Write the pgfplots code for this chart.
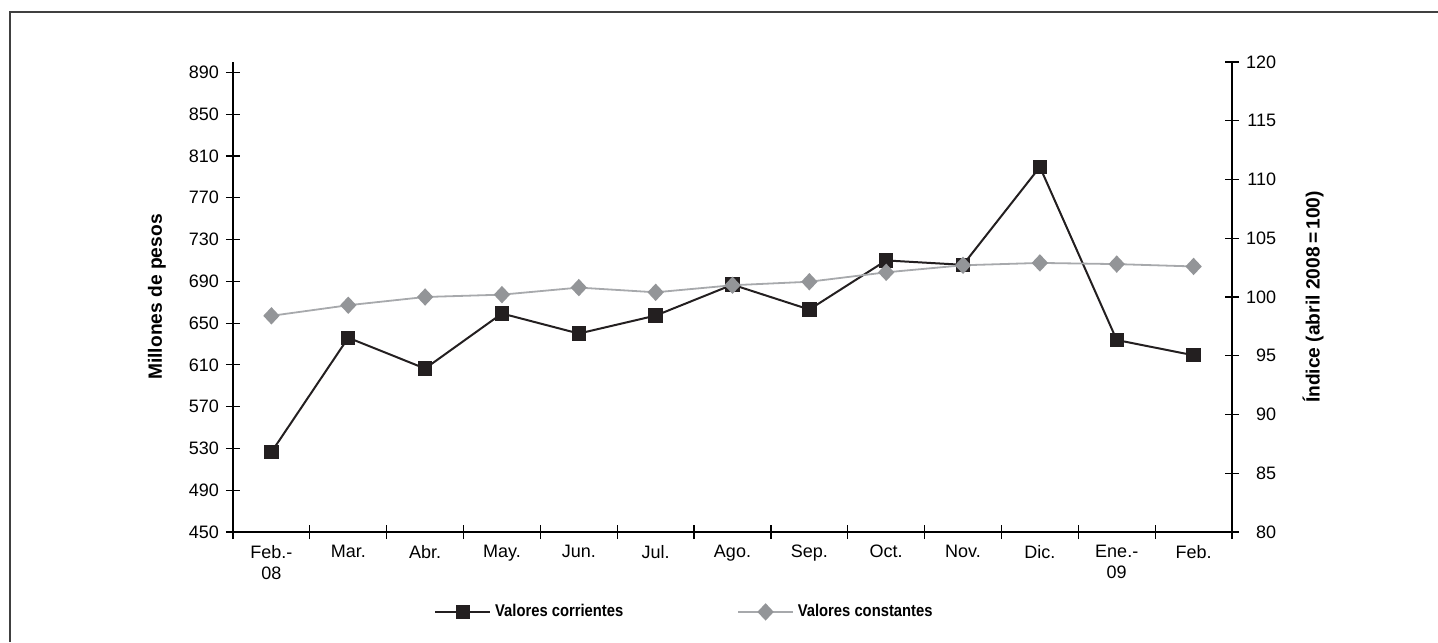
\documentclass[border=0pt]{standalone}
\usepackage{pgfplots}
\pgfplotsset{compat=1.18}
\usepackage{fontspec}
\setmainfont{Liberation Sans}

\definecolor{serA}{HTML}{231F20}
\definecolor{serB}{HTML}{939598}
\definecolor{serBline}{HTML}{A7A9AC}

% Valores corrientes (millones de pesos)
\pgfplotstableread{
x y
0 526.5
1 636
2 606.5
3 659.2
4 640
5 657.2
6 686.8
7 663
8 710
9 705.8
10 799.5
11 633.8
12 619.2
}\corrientes

% Valores constantes (indice abril 2008 = 100)
\pgfplotstableread{
x y
0 98.4
1 99.3
2 100.0
3 100.2
4 100.8
5 100.4
6 101.0
7 101.3
8 102.1
9 102.7
10 102.9
11 102.8
12 102.6
}\constantes

\pgfplotsset{
  common/.style={
    at={(0,0)}, anchor=south west,
    width=499.5pt, height=235pt, scale only axis,
    xmin=-0.5, xmax=12.5,
    axis line style={line width=0.6pt, black, -},
    tick style={black, line width=0.6pt},
    tick align=center, major tick length=7pt,
    /pgf/number format/assume math mode=true,
    tick label style={font=\fontsize{9}{10}\selectfont},
  }
}

\begin{document}
\begin{tikzpicture}
\useasboundingbox (-116.5pt,-55pt) rectangle (602.5pt,266pt);
\draw[black!75, line width=0.6pt] (-111.5pt,-55pt) -- (-111.5pt,260pt) -- (602.5pt,260pt);

\begin{axis}[
  common,
  ymin=450, ymax=900,
  axis x line*=bottom, axis y line*=left,
  xtick={-0.5,0.5,...,12.5},
  xticklabels={},
  extra x ticks={0,...,12},
  extra x tick labels={{Feb.-\\08},Mar.,Abr.,May.,Jun.,Jul.,Ago.,Sep.,Oct.,Nov.,Dic.,{Ene.-\\09},Feb.},
  extra x tick style={major tick length=0pt,
    xticklabel style={align=center, yshift=-3pt, font=\fontsize{9}{10.5}\selectfont}},
  ytick={450,490,...,890},
  ylabel={\bfseries Millones de pesos},
  ylabel style={at={([xshift=-38pt]axis description cs:0,0.5)}, anchor=center, rotate=0,
    font=\fontsize{9.6}{10}\selectfont},
]
\addplot[serA, line width=1pt, mark=square*, mark size=3.1pt,
  mark options={fill=serA, draw=serA}] table {\corrientes};
\end{axis}

\begin{axis}[
  common,
  ymin=80, ymax=120,
  axis x line=none, axis y line*=right,
  ytick={80,85,...,120},
  yticklabel style={text width=15pt, align=right},
  ylabel={\bfseries Índice (abril 2008\,=\,100)},
  ylabel style={at={([xshift=40.5pt]axis description cs:1,0.5)}, anchor=center, rotate=0,
    font=\fontsize{9.6}{10}\selectfont},
  legend columns=2,
  legend cell align=left,
  legend style={at={(axis description cs:0.453,-0.17)}, anchor=center, draw=none,
    fill=none, font=\fontsize{8.5}{10}\selectfont\bfseries\addfontfeature{FakeStretch=0.87},
    /tikz/every even column/.append style={column sep=55pt}},
  legend image code/.code={\draw[mark repeat=2, mark phase=2]
    plot coordinates {(0cm,0cm) (0.48cm,0cm) (0.96cm,0cm)};},
]
\addlegendimage{serA, line width=1pt, mark=square*, mark size=3.1pt,
  mark options={fill=serA, draw=serA}}
\addlegendentry{Valores corrientes}
\addplot[serBline, line width=0.9pt, mark=diamond*, mark size=3.7pt,
  mark options={fill=serB, draw=serB, xscale=1.25}] table {\constantes};
\addlegendentry{Valores constantes}
\end{axis}
\end{tikzpicture}
\end{document}
